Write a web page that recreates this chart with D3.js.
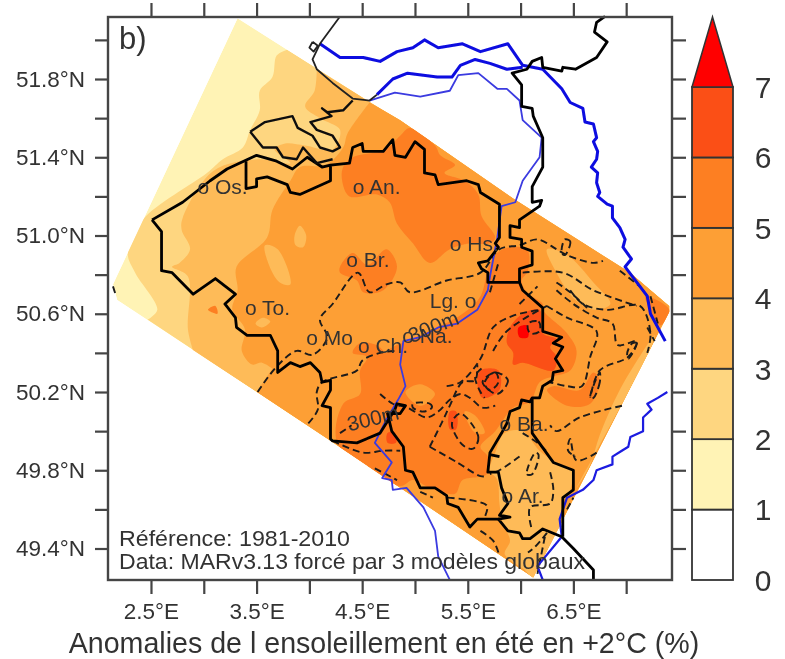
<!DOCTYPE html>
<html>
<head>
<meta charset="utf-8">
<script src="https://cdnjs.cloudflare.com/ajax/libs/d3/7.8.5/d3.min.js"></script>
<style>
  html, body { margin: 0; background: #fff; }
  text { font-family: "Liberation Sans", Arial, sans-serif; fill: #333; }
</style>
</head>
<body>
<svg id="chart" width="785" height="659"></svg>
<script>
// all geometry below is [lon, lat]
var lonTicks = [2.5, 3, 3.5, 4, 4.5, 5, 5.5, 6, 6.5, 7];
var lonLabels = ['2.5°E', '', '3.5°E', '', '4.5°E', '', '5.5°E', '', '6.5°E', ''];
var latTicks = [52, 51.8, 51.6, 51.4, 51.2, 51, 50.8, 50.6, 50.4, 50.2, 50, 49.8, 49.6, 49.4];
var latLabels = ['', '51.8°N', '', '51.4°N', '', '51.0°N', '', '50.6°N', '', '50.2°N', '', '49.8°N', '', '49.4°N'];
var barLevels = [0, 1, 2, 3, 4, 5, 6, 7];
var barColors = ['#ffffff', '#fff3b5', '#fed680', '#febb58', '#fd9f36', '#fd7f24', '#fb5012'];
var arrowColor = '#ff0000';

var domainOutline = [[3.32,52.11],[3.79,51.95],[4.67,51.65],[4.86,51.59],[5.93,51.19],[7.04,50.81],[7.41,50.64],[7.41,50.61],[6.12,49.25],[4.20,49.95],[3.50,50.20],[2.18,50.67],[2.14,50.75]];
var domainTail = [[3.50,50.20],[4.20,49.95],[6.12,49.25],[7.41,50.61],[7.41,50.64],[7.04,50.81],[5.93,51.19],[4.86,51.59],[4.67,51.65]];

// level boundaries: the free edge only, closed along the domain outline when drawn
var level2Edge = [[3.79,51.95],[3.69,51.92],[3.65,51.81],[3.53,51.74],[3.53,51.64],[3.44,51.54],[3.37,51.45],[3.18,51.39],[3.03,51.32],[2.42,51.08],[2.28,50.91],[2.35,50.81],[2.56,50.62],[2.47,50.57]];
var level3Edge = [[4.07,51.85],[4.05,51.74],[3.96,51.66],[4.10,51.60],[4.29,51.54],[4.22,51.44],[3.96,51.46],[3.77,51.47],[3.67,51.44],[3.82,51.37],[3.51,51.39],[3.09,51.33],[2.80,51.09],[2.79,51.03],[2.87,50.93],[2.77,50.86],[2.70,50.84],[2.85,50.79],[2.85,50.52],[2.90,50.41]];
var level4Edge = [[4.57,51.68],[4.36,51.52],[4.32,51.45],[4.15,51.36],[3.91,51.35],[3.82,51.28],[3.65,51.13],[3.60,50.99],[3.31,50.84],[3.32,50.72],[3.27,50.62],[3.39,50.52],[3.36,50.41],[3.46,50.34],[3.55,50.35],[3.65,50.32]];
var level3Patches = [
  [[3.91,51.05],[3.97,51.00],[3.94,50.94],[3.87,50.95],[3.86,51.00]],
  [[3.58,50.95],[3.70,50.93],[3.82,50.75],[3.72,50.76],[3.61,50.86]],
  [[3.56,50.58],[3.63,50.56],[3.55,50.53],[3.49,50.55]],
  [[6.25,50.93],[6.44,50.90],[6.69,50.76],[6.85,50.65],[6.70,50.62],[6.52,50.67],[6.34,50.81]],
  [[7.27,50.49],[7.08,50.34],[6.92,50.19],[6.75,49.98],[6.66,49.83],[6.53,49.71],[6.75,49.93],[6.99,50.17],[7.23,50.42]],
  [[6.02,50.00],[6.18,49.90],[6.34,49.84],[6.49,49.80],[6.47,49.70],[6.39,49.63],[6.39,49.53],[6.26,49.39],[6.12,49.25],[6.04,49.29],[5.85,49.37],[5.90,49.44],[5.83,49.53],[5.80,49.63],[5.78,49.75],[5.71,49.80],[5.76,49.89],[5.85,49.99]]
];
var level5Polys = [
  [[4.41,51.40],[4.72,51.44],[4.86,51.51],[4.95,51.55],[5.19,51.46],[5.24,51.41],[5.38,51.36],[5.28,51.32],[5.47,51.28],[5.60,51.21],[5.63,51.10],[5.76,50.99],[5.71,50.96],[5.52,50.96],[5.33,50.93],[5.14,50.86],[4.98,50.96],[4.83,51.06],[4.76,51.17],[4.64,51.21],[4.38,51.20],[4.31,51.28],[4.32,51.35]],
  [[4.29,50.84],[4.41,50.91],[4.55,50.85],[4.73,50.93],[4.83,50.84],[4.70,50.72],[4.51,50.71],[4.45,50.77],[4.29,50.81]],
  [[5.62,50.69],[5.71,50.86],[5.83,50.93],[6.06,50.93],[6.07,50.82],[6.01,50.77],[6.06,50.71],[6.21,50.65],[6.21,50.62],[6.44,50.50],[6.53,50.41],[6.47,50.31],[6.31,50.28],[6.18,50.25],[6.09,50.15],[5.93,50.12],[5.76,50.00],[5.62,49.92],[5.69,49.87],[5.68,49.78],[5.45,49.75],[5.38,49.68],[5.14,49.71],[4.98,49.75],[4.86,49.72],[4.27,49.93],[4.32,50.14],[4.48,50.19],[4.48,50.31],[4.55,50.38],[4.41,50.40],[4.48,50.45],[4.64,50.44],[4.73,50.40],[4.76,50.42],[5.05,50.49],[5.45,50.60]],
  [[6.25,50.21],[6.44,50.13],[6.66,50.14],[6.75,50.26],[6.69,50.30],[6.56,50.21],[6.31,50.23]],
  [[7.18,50.69],[7.41,50.62],[7.32,50.54],[7.23,50.62]],
  [[3.04,50.62],[3.11,50.64],[3.13,50.60]]
];
var level4Patches = [
  [[4.91,50.20],[5.05,50.24],[5.19,50.19],[5.05,50.13]],
  [[5.47,50.10],[5.57,50.08],[5.66,49.99],[5.57,49.99]]
];
var level6Polys = [
  [[6.02,50.60],[5.90,50.53],[5.87,50.45],[5.93,50.40],[5.93,50.34],[6.02,50.35],[6.31,50.31],[6.34,50.38],[6.28,50.43],[6.34,50.47],[6.21,50.50],[6.18,50.62]],
  [[5.62,50.31],[5.79,50.31],[5.80,50.21],[5.64,50.17],[5.59,50.25]],
  [[5.33,50.10],[5.39,50.10],[5.39,50.01],[5.33,50.01]],
  [[4.74,49.99],[4.81,49.99],[4.82,49.94],[4.74,49.94]]
];
var level7Polys = [
  [[5.98,50.53],[6.06,50.54],[6.07,50.48],[5.99,50.48]]
];

// open dashed elevation lines
var contourLines = [
  [[3.51,50.20],[3.69,50.33],[3.88,50.41],[4.03,50.39],[4.17,50.48],[4.10,50.57],[4.22,50.65],[4.46,50.81],[4.57,50.71],[4.73,50.75],[4.86,50.76],[4.95,50.71],[5.30,50.77],[5.62,50.81],[5.80,50.93],[5.99,50.95],[6.16,50.98],[6.34,50.93],[6.44,50.90],[6.69,50.86],[6.78,50.87]],
  [[3.99,50.04],[4.08,50.11],[4.07,50.20],[4.12,50.25],[4.45,50.31],[4.50,50.36],[4.67,50.40],[4.83,50.41]],
  [[4.29,49.99],[4.40,50.03]],
  [[4.22,49.95],[4.51,49.89],[4.70,49.90],[4.86,49.90]],
  [[4.62,49.81],[4.83,49.75]],
  [[4.67,50.19],[4.79,50.14],[4.93,50.12],[5.11,50.07],[5.22,50.10],[5.33,50.16],[5.43,50.19],[5.52,50.17],[5.64,50.12],[5.76,50.13]],
  [[5.14,49.92],[5.40,49.84],[5.62,49.77],[5.69,49.77]],
  [[5.14,49.92],[5.26,50.05],[5.33,50.13],[5.45,50.25],[5.57,50.26],[5.59,50.34]],
  [[5.63,50.32],[5.57,50.28],[5.62,50.20],[5.66,50.17]],
  [[5.30,50.23],[5.43,50.25],[5.62,50.37],[5.74,50.53],[5.93,50.59],[6.18,50.62]],
  [[5.74,50.41],[5.85,50.50],[6.02,50.57],[6.25,50.64]],
  [[6.25,50.64],[6.44,50.58],[6.72,50.51],[6.66,50.38],[6.58,50.23],[6.44,50.23],[6.28,50.25]],
  [[6.34,50.72],[6.50,50.65],[6.72,50.58],[6.87,50.55],[6.92,50.44],[7.10,50.46],[7.02,50.38],[6.75,50.31],[6.66,50.17]],
  [[6.47,50.72],[6.59,50.65],[6.82,50.62],[7.13,50.64],[7.23,50.50],[7.20,50.40]],
  [[6.02,50.81],[6.40,50.81],[6.69,50.72],[7.10,50.64]],
  [[6.34,50.76],[6.47,50.71],[6.63,50.63]],
  [[6.94,50.82],[7.13,50.74]],
  [[7.20,50.53],[7.27,50.46]],
  [[7.23,50.69],[7.30,50.55]],
  [[6.96,50.13],[6.56,50.07],[6.34,50.00],[6.28,50.03]],
  [[6.72,49.89],[6.53,49.85],[6.47,49.96],[6.45,49.90],[6.52,49.87]],
  [[6.28,49.79],[6.31,49.70],[6.28,49.63],[6.09,49.61],[6.11,49.49]],
  [[6.02,49.99],[6.16,49.94],[6.26,49.89]],
  [[5.99,49.87],[5.80,49.80],[5.71,49.78]],
  [[5.05,49.69],[5.17,49.66]],
  [[5.31,49.66],[5.68,49.62],[5.66,49.56]],
  [[5.62,49.49],[5.74,49.44],[5.79,49.38]],
  [[6.25,49.48],[6.14,49.41],[6.07,49.38]],
  [[6.23,49.46],[6.16,49.27]],
  [[6.44,49.60],[6.50,49.66]],
  [[5.71,50.71],[5.79,50.86]],
  [[5.99,50.65],[6.16,50.74]],
  [[2.14,50.74],[2.17,50.69]]
];
// closed dashed rings
var contourRings = [
  [[6.42,50.98],[6.47,50.97],[6.42,50.90],[6.39,50.91]],
  [[4.98,50.14],[5.14,50.14],[5.16,50.12],[5.08,50.10],[4.98,50.12]],
  [[5.76,50.30],[5.88,50.26],[5.78,50.19],[5.64,50.25]],
  [[5.68,50.27],[5.76,50.30],[5.79,50.25],[5.71,50.21],[5.66,50.24]],
  [[6.07,50.55],[6.17,50.56],[6.18,50.51],[6.09,50.50]],
  [[7.06,50.45],[7.10,50.45],[7.02,50.37],[7.01,50.40]],
  [[6.75,50.30],[6.75,50.25],[6.69,50.17],[6.66,50.17]],
  [[6.14,49.89],[6.06,49.78],[6.11,49.78],[6.17,49.88]],
  [[5.43,50.09],[5.60,49.97],[5.55,49.91],[5.45,49.93],[5.35,50.04]]
];

var coastLine = [[2.51,51.08],[2.80,51.17],[3.06,51.28],[3.22,51.34],[3.50,51.41],[3.69,51.38],[3.84,51.34],[3.98,51.40],[4.12,51.35],[4.20,51.36]];
var belgiumNorth = [[3.40,51.38],[3.40,51.24],[3.50,51.25],[3.50,51.29],[3.60,51.30],[3.79,51.26],[3.82,51.22],[3.91,51.21],[4.20,51.28],[4.20,51.36],[4.38,51.37],[4.41,51.45],[4.50,51.47],[4.51,51.43],[4.70,51.43],[4.79,51.49],[4.81,51.41],[4.91,51.40],[5.00,51.48],[5.09,51.44],[5.09,51.32],[5.19,51.31],[5.22,51.26],[5.49,51.28],[5.60,51.26],[5.62,51.22],[5.80,51.16],[5.80,50.99],[5.76,50.96],[5.79,50.94],[5.69,50.87],[5.60,50.86],[5.63,50.83],[5.69,50.81],[5.69,50.76],[5.99,50.76],[6.02,50.72],[6.21,50.63],[6.21,50.51],[6.39,50.48],[6.31,50.45],[6.40,50.43],[6.33,50.37],[6.40,50.31],[6.31,50.30],[6.30,50.26],[6.21,50.23],[6.18,50.17],[6.11,50.17],[6.09,50.15],[6.01,50.16],[5.99,50.12],[5.90,50.10],[5.87,50.04],[5.82,49.99],[5.71,49.89],[5.69,49.79],[5.79,49.79],[5.82,49.71],[5.88,49.63],[5.80,49.57],[5.90,49.56],[5.79,49.55],[5.88,49.49],[5.99,49.48],[6.02,49.45],[6.09,49.45],[6.21,49.50],[6.39,49.46],[6.50,49.40],[6.69,49.29],[6.69,49.24]];
var germanBorder = [[5.99,50.76],[5.99,50.83],[6.11,50.85],[6.11,50.92],[6.01,50.94],[6.01,50.98],[5.90,50.99],[5.90,51.05],[5.99,51.04],[5.99,51.08],[6.18,51.15],[6.20,51.18],[6.11,51.17],[6.11,51.25],[6.21,51.35],[6.21,51.50],[6.12,51.61],[6.11,51.65],[6.01,51.66],[6.01,51.77],[5.92,51.83],[6.06,51.85],[6.11,51.89],[6.20,51.91],[6.21,51.86],[6.39,51.84],[6.40,51.86],[6.52,51.85],[6.72,51.91],[6.82,51.99],[6.70,52.04],[6.72,52.09],[6.80,52.12]];
var luxBorder = [[6.11,50.17],[6.11,49.99],[6.31,49.84],[6.50,49.80],[6.50,49.70],[6.40,49.66],[6.40,49.46]];
var franceBorder = [[5.80,49.55],[5.59,49.55],[5.52,49.51],[5.41,49.61],[5.31,49.63],[5.30,49.67],[5.19,49.71],[5.05,49.71],[4.98,49.79],[4.91,49.80],[4.89,49.92],[4.78,50.00],[4.74,50.09],[4.86,50.09],[4.91,50.13],[4.83,50.14],[4.81,50.11],[4.67,49.99],[4.45,49.94],[4.22,49.95],[4.20,49.96],[4.20,50.12],[4.12,50.13],[4.20,50.21],[4.20,50.26],[4.12,50.25],[4.10,50.30],[4.01,50.35],[3.91,50.33],[3.82,50.35],[3.70,50.30],[3.70,50.41],[3.63,50.49],[3.41,50.49],[3.31,50.53],[3.30,50.58],[3.20,50.65],[3.30,50.70],[3.11,50.78],[2.90,50.70],[2.70,50.81],[2.60,50.82],[2.60,51.02],[2.51,51.08]];
var luxTick = [[5.71,49.88],[5.80,49.87]];
var zeelandNorth = [[3.44,51.53],[3.58,51.58],[3.84,51.61],[3.89,51.55],[4.03,51.51],[4.10,51.45],[4.22,51.43],[4.29,51.45],[4.22,51.51],[4.07,51.54],[4.01,51.58],[4.21,51.61],[4.12,51.65],[4.17,51.63],[4.32,51.64],[4.41,51.69]];
var zeelandSouth = [[3.44,51.53],[3.56,51.45],[3.69,51.45],[3.75,51.40],[3.88,51.39],[3.94,51.45],[4.07,51.37],[4.22,51.39]];
var hollandCoast = [[4.29,52.12],[4.10,51.98],[4.03,51.90],[4.07,51.85],[4.22,51.78],[4.41,51.70],[4.57,51.69],[4.64,51.72]];
var estuaryRing = [[4.03,51.99],[4.08,51.97],[4.04,51.94],[4.00,51.96],[4.03,51.99]];

var rhineLine = [[4.10,51.98],[4.29,51.91],[4.51,51.91],[4.67,51.89],[4.83,51.94],[4.98,51.96],[5.09,52.00],[5.22,51.96],[5.45,51.98],[5.62,51.94],[5.88,51.98],[6.02,51.87],[6.21,51.85],[6.39,51.75],[6.47,51.68],[6.59,51.65],[6.61,51.58],[6.69,51.57],[6.72,51.50],[6.69,51.48],[6.73,51.43],[6.72,51.39],[6.67,51.35],[6.73,51.32],[6.72,51.27],[6.75,51.22],[6.73,51.20],[6.82,51.16],[6.87,51.15],[6.87,51.09],[6.94,51.04],[6.99,50.98],[6.97,50.94],[7.05,50.88],[6.99,50.84],[7.20,50.69],[7.23,50.60],[7.37,50.46]];
var waalLine = [[4.64,51.72],[4.79,51.80],[4.93,51.83],[5.21,51.81],[5.35,51.81],[5.43,51.87],[5.57,51.90],[5.71,51.88],[5.87,51.85],[6.02,51.86]];
var meuseLine = [[4.57,51.69],[4.81,51.73],[5.05,51.71],[5.33,51.74],[5.41,51.82],[5.60,51.83],[5.78,51.75],[5.87,51.75],[5.99,51.69],[6.02,51.59],[6.20,51.50],[6.18,51.40],[6.02,51.28],[5.95,51.17],[5.82,51.15],[5.78,50.99],[5.71,50.79],[5.69,50.72],[5.59,50.62],[5.40,50.55],[5.22,50.53],[5.05,50.48],[4.89,50.46],[4.86,50.34],[4.91,50.23],[4.84,50.16],[4.73,50.06],[4.62,49.94],[4.78,49.84],[4.69,49.76],[4.78,49.75],[4.79,49.70],[4.92,49.71],[5.08,49.61],[5.19,49.49],[5.22,49.36],[5.33,49.24]];
var moselleLine = [[7.39,50.20],[7.30,50.17],[7.20,50.14],[7.24,50.11],[7.16,50.07],[7.16,50.00],[7.04,49.97],[7.02,49.92],[6.87,49.87],[6.87,49.83],[6.72,49.80],[6.69,49.75],[6.59,49.70],[6.44,49.66],[6.37,49.55],[6.39,49.46],[6.16,49.31],[6.21,49.24]];

var cityLabels = ['o Os.', 'o An.', 'o Br.', 'o Hs.', 'Lg. o', 'o To.', 'o Mo', 'o Ch.', 'o Na.', 'o Ba.', 'o Ar.'];
var cityLons = [2.94, 4.41, 4.35, 5.33, 5.14, 3.39, 3.97, 4.46, 4.88, 5.80, 5.82];
var cityLats = [51.25, 51.25, 50.88, 50.96, 50.67, 50.63, 50.48, 50.44, 50.49, 50.04, 49.67];

var svg = d3.select('#chart');
var defs = svg.append('defs');
defs.append('filter').attr('id', 'soft')
  .attr('filterUnits', 'userSpaceOnUse')
  .attr('x', 0).attr('y', 0)
  .attr('width', 785).attr('height', 659)
  .append('feGaussianBlur').attr('stdDeviation', 0.7);

var root = svg.append('g').attr('filter', 'url(#soft)');

var xScale = d3.scaleLinear().domain([2.093, 7.434]).range([108, 672]);
var yScale = d3.scaleLinear().domain([52.117, 49.239]).range([17, 580]);
var barScale = d3.scaleLinear().domain([0, 7]).range([580, 87]);

var geoLine = d3.line().x((d) => xScale(d[0])).y((d) => yScale(d[1]));
var smoothLine = d3.line().x((d) => xScale(d[0])).y((d) => yScale(d[1])).curve(d3.curveCatmullRom);
var smoothRing = d3.line().x((d) => xScale(d[0])).y((d) => yScale(d[1])).curve(d3.curveCatmullRomClosed);
var straightRing = (d) => geoLine(d) + 'Z';
// free edge is curved, the rest follows the domain outline straight
var levelPath = (edge) => smoothLine(edge) + domainTail.map((d) => 'L' + xScale(d[0]) + ',' + yScale(d[1])).join('') + 'Z';

defs.append('clipPath').attr('id', 'domainClip')
  .append('path').attr('d', straightRing(domainOutline));

var fills = root.append('g').attr('clip-path', 'url(#domainClip)');

function drawLevel(edge, color) {
  fills.append('path').attr('d', levelPath(edge)).attr('fill', color);
}

function drawBlobs(polys, color) {
  fills.append('g').selectAll('path').data(polys).enter().append('path')
    .attr('d', smoothRing)
    .attr('fill', color);
}

fills.append('path').attr('d', straightRing(domainOutline)).attr('fill', barColors[1]);
drawLevel(level2Edge, barColors[2]);
drawLevel(level3Edge, barColors[3]);
drawLevel(level4Edge, barColors[4]);
drawBlobs(level3Patches, barColors[3]);
drawBlobs(level5Polys, barColors[5]);
drawBlobs(level4Patches, barColors[4]);
drawBlobs(level6Polys, barColors[6]);
drawBlobs(level7Polys, arrowColor);

function drawLines(lines, color, width, gen, dash) {
  root.append('g').selectAll('path').data(lines).enter().append('path')
    .attr('d', gen)
    .attr('fill', 'none')
    .attr('stroke', color)
    .attr('stroke-width', width)
    .attr('stroke-linejoin', 'round')
    .attr('stroke-dasharray', dash || null);
}

drawLines(contourLines, '#1a1a1a', 1.9, smoothLine, '7,4');
drawLines(contourRings, '#1a1a1a', 1.9, smoothRing, '7,4');

drawLines([rhineLine, waalLine], '#0a0ae0', 3, geoLine);
drawLines([moselleLine], '#1a1ae0', 2.2, geoLine);
drawLines([meuseLine], '#3a3ae0', 1.8, geoLine);
drawLines([coastLine, belgiumNorth, franceBorder, germanBorder, luxBorder, luxTick], '#000', 2.8, geoLine);
drawLines([zeelandNorth, zeelandSouth], '#111', 2.4, geoLine);
drawLines([hollandCoast, estuaryRing], '#222', 1.8, geoLine);

// city markers and the two contour height labels
root.append('g').selectAll('text').data(cityLabels).enter().append('text')
  .attr('x', (d, i) => xScale(cityLons[i]))
  .attr('y', (d, i) => yScale(cityLats[i]))
  .attr('dy', '0.36em')
  .attr('font-size', 21)
  .text((d) => d);

[[4.62, 50.03, -14], [5.2, 50.5, -22]].forEach((d) => {
  root.append('text')
    .attr('text-anchor', 'middle')
    .attr('font-size', 21)
    .attr('transform', 'translate(' + xScale(d[0]) + ',' + yScale(d[1]) + ') rotate(' + d[2] + ')')
    .text('300m');
});

root.append('text').attr('x', 119).attr('y', 49).attr('font-size', 31).text('b)');
root.append('text').attr('x', 119).attr('y', 546).attr('font-size', 21.5)
  .attr('textLength', 231).attr('lengthAdjust', 'spacingAndGlyphs').text('Référence: 1981-2010');
root.append('text').attr('x', 119).attr('y', 569).attr('font-size', 21.5)
  .attr('textLength', 466).attr('lengthAdjust', 'spacingAndGlyphs').text('Data: MARv3.13 forcé par 3 modèles globaux');

// axes on all four sides, only bottom and left carry labels
function styleAxis(g, size) {
  g.select('.domain').remove();
  g.selectAll('line').attr('stroke', '#444').attr('stroke-width', 2.2);
  g.selectAll('text').attr('font-size', size).attr('font-family', '"Liberation Sans", Arial, sans-serif').attr('fill', '#333');
}

var lonFormat = (d, i) => lonLabels[i];
var latFormat = (d, i) => latLabels[i];
root.append('g').attr('transform', 'translate(0,580)')
  .call(d3.axisBottom(xScale).tickValues(lonTicks).tickFormat(lonFormat).tickSize(14).tickPadding(9))
  .call(styleAxis, 22.5);
root.append('g').attr('transform', 'translate(0,17)')
  .call(d3.axisTop(xScale).tickValues(lonTicks).tickFormat('').tickSize(14))
  .call(styleAxis, 22.5);
root.append('g').attr('transform', 'translate(108,0)')
  .call(d3.axisLeft(yScale).tickValues(latTicks).tickFormat(latFormat).tickSize(13).tickPadding(10))
  .call(styleAxis, 22.5);
root.append('g').attr('transform', 'translate(672,0)')
  .call(d3.axisRight(yScale).tickValues(latTicks).tickFormat('').tickSize(14))
  .call(styleAxis, 22.5);

root.append('rect')
  .attr('x', 108).attr('y', 17).attr('width', 564).attr('height', 563)
  .attr('fill', 'none').attr('stroke', '#444').attr('stroke-width', 2.4);

root.append('text')
  .attr('x', 384).attr('y', 653)
  .attr('text-anchor', 'middle')
  .attr('font-size', 28.6)
  .text('Anomalies de l ensoleillement en été en +2°C (%)');

// colour bar
var bar = root.append('g');
bar.selectAll('rect').data(barColors).enter().append('rect')
  .attr('x', 692)
  .attr('width', 41)
  .attr('y', (d, i) => barScale(i + 1))
  .attr('height', (d, i) => barScale(i) - barScale(i + 1))
  .attr('fill', (d) => d)
  .attr('stroke', '#333')
  .attr('stroke-width', 1.8);
bar.append('path')
  .attr('d', d3.line()([[692, barScale(7)], [712.5, 17], [733, barScale(7)]]) + 'Z')
  .attr('fill', arrowColor)
  .attr('stroke', '#333')
  .attr('stroke-width', 1.5);
bar.selectAll('text').data(barLevels).enter().append('text')
  .attr('x', 763)
  .attr('y', (d) => barScale(d))
  .attr('dy', '0.36em')
  .attr('text-anchor', 'middle')
  .attr('font-size', 30)
  .text((d) => d);
</script>
</body>
</html>
